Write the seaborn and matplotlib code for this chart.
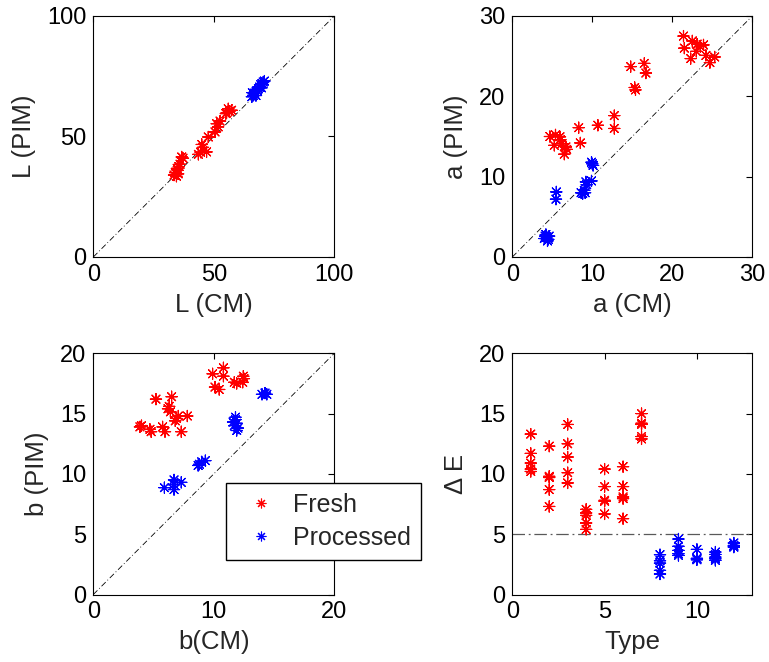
import numpy as np
import pandas as pd
import matplotlib
matplotlib.use("Agg")
import matplotlib.pyplot as plt
import seaborn as sns
from matplotlib.lines import Line2D

sns.set_theme(style="white")
plt.rcParams['font.family'] = ['Liberation Sans', 'DejaVu Sans']

# ---- L channel: colorimeter (CM) vs image (PIM) ----
L_cm_fresh = [33.5, 34.0, 34.5, 35.0, 34.8, 35.5, 36.0, 35.2, 36.7, 37.2, 43.6, 44.5, 45.0,
              45.5, 47.0, 47.7, 50.5, 51.2, 52.6, 51.8, 55.0, 55.3, 56.5, 57.4, 56.0]
L_pim_fresh = [34.0, 35.0, 33.5, 36.0, 36.8, 37.5, 38.5, 34.5, 41.5, 41.0, 42.6, 43.5, 46.7,
               45.5, 43.6, 49.8, 51.9, 55.3, 56.4, 54.0, 59.5, 59.8, 60.5, 60.9, 61.5]
L_cm_proc = [65.8, 66.4, 67.0, 66.0, 67.5, 68.0, 68.5, 69.0, 69.5, 70.0, 70.5, 71.0, 69.8]
L_pim_proc = [66.5, 67.1, 68.0, 68.2, 67.0, 69.0, 69.8, 70.5, 71.5, 72.0, 72.6, 73.0, 70.2]

# ---- a channel ----
a_cm_fresh = [21.4, 22.5, 21.5, 23.1, 23.9, 23.0, 22.3, 24.2, 25.3, 24.7, 23.5,
              14.8, 16.5, 16.7, 15.3, 15.4,
              12.75, 10.7, 12.75, 8.3, 8.5,
              4.7, 5.4, 5.96, 5.25, 6.2, 6.7, 6.8, 6.5, 6.0]
a_pim_fresh = [27.5, 26.9, 26.0, 26.5, 26.4, 25.6, 24.7, 25.1, 24.9, 24.2, 26.2,
               23.7, 24.1, 22.9, 21.1, 20.8,
               17.6, 16.4, 16.0, 16.1, 14.2,
               15.0, 15.2, 14.96, 13.9, 14.1, 13.7, 13.4, 12.8, 14.6]
a_cm_proc = [4.0, 4.3, 4.5, 4.2, 4.6, 4.4, 4.1,
             5.5, 5.46,
             9.9, 10.1, 10.0,
             9.2, 9.9, 9.3, 9.1, 8.8, 8.6, 9.0]
a_pim_proc = [2.3, 2.5, 2.2, 2.8, 2.6, 2.0, 2.6,
              8.1, 7.2,
              11.8, 11.4, 11.6,
              9.35, 9.47, 9.0, 8.0, 7.9, 8.0, 8.3]

# ---- b channel ----
b_cm_fresh = [3.87, 4.0, 4.7, 4.8, 5.2, 5.75, 5.95, 6.2, 6.3, 6.5, 6.4, 6.9, 7.05, 6.8, 7.8, 7.3,
              9.9, 10.1, 10.45, 10.8, 10.8, 11.7, 11.9, 12.45, 12.4, 12.5]
b_pim_fresh = [13.9, 14.0, 13.7, 13.5, 16.2, 13.9, 13.5, 15.4, 15.6, 16.4, 15.15, 14.6, 14.8, 14.4,
               14.8, 13.5,
               18.3, 17.2, 17.0, 18.8, 18.1, 17.6, 17.5, 18.1, 17.6, 17.9]
b_cm_proc = [14.25, 14.0, 14.4,
             11.8, 11.9, 11.7, 12.0, 11.8, 11.9, 11.6,
             9.0, 8.7, 9.3, 8.8,
             5.9, 6.7, 6.7, 7.3, 6.7]
b_pim_proc = [16.7, 16.6, 16.6,
              14.5, 14.2, 14.0, 13.8, 14.7, 13.6, 14.3,
              11.0, 10.7, 11.1, 10.8,
              8.86, 9.5, 8.7, 9.3, 9.1]

# ---- colour difference per sample type ----
de_type = ([1] * 5 + [2] * 5 + [3] * 5 + [4] * 5 + [5] * 5 + [6] * 5 + [7] * 5 +
           [8] * 5 + [9] * 5 + [10] * 4 + [11] * 5 + [12] * 4)
de_value = [13.3, 11.7, 10.9, 10.4, 10.2,
            12.3, 9.8, 9.7, 8.7, 7.3,
            14.1, 12.5, 11.4, 10.1, 9.25,
            7.06, 6.76, 6.56, 5.93, 5.40,
            10.4, 8.95, 7.81, 7.73, 6.68,
            10.6, 8.95, 8.09, 7.95, 6.29,
            15.0, 14.2, 14.1, 13.1, 12.9,
            3.3, 2.8, 2.6, 2.0, 1.7,
            4.6, 4.0, 3.66, 3.38, 3.24,
            3.74, 3.0, 2.96, 2.88,
            3.52, 3.32, 3.10, 2.96, 2.83,
            4.27, 4.07, 4.0, 3.93]
de_group = ["Fresh"] * 35 + ["Processed"] * 23

groups = ["Fresh", "Processed"]
palette = {"Fresh": "#ff0000", "Processed": "#0000ff"}
ASTER = (8, 2, 0)

TICK_FS = 17
LABEL_FS = 18.5


def pair_frame(cm_f, pim_f, cm_p, pim_p):
    return pd.DataFrame({
        "cm": list(cm_f) + list(cm_p),
        "pim": list(pim_f) + list(pim_p),
        "group": ["Fresh"] * len(cm_f) + ["Processed"] * len(cm_p),
    })


def style_axes(ax):
    ax.tick_params(direction="in", top=True, right=True, length=4, width=0.8,
                   labelsize=TICK_FS, pad=5, colors="black")
    for sp in ax.spines.values():
        sp.set_color("black")
        sp.set_linewidth(0.8)


dashdot = (0, (7, 3, 1, 3))

fig = plt.figure(figsize=(7.69, 6.62), dpi=100)
W, H = 769, 662
boxes = [(93.3, 16, 241, 241), (512.3, 16, 240, 241),
         (93.3, 353.3, 241, 241.2), (512.3, 353.3, 240, 241.2)]
axes = [fig.add_axes([x / W, 1 - (y + h) / H, w / W, h / H]) for x, y, w, h in boxes]

panels = [
    (pair_frame(L_cm_fresh, L_pim_fresh, L_cm_proc, L_pim_proc), 100, [0, 50, 100], [0, 50, 100],
     "L (CM)", "L (PIM)"),
    (pair_frame(a_cm_fresh, a_pim_fresh, a_cm_proc, a_pim_proc), 30, [0, 10, 20, 30], [0, 10, 20, 30],
     "a (CM)", "a (PIM)"),
    (pair_frame(b_cm_fresh, b_pim_fresh, b_cm_proc, b_pim_proc), 20, [0, 10, 20], [0, 5, 10, 15, 20],
     "b(CM)", "b (PIM)"),
]

for ax, (df, lim, xt, yt, xl, yl) in zip(axes[:3], panels):
    ax.plot([0, lim], [0, lim], color="black", lw=0.6, ls=dashdot, zorder=1)
    sns.scatterplot(data=df, x="cm", y="pim", hue="group", hue_order=groups, palette=palette,
                    marker=ASTER, s=65, linewidth=0.85, legend=False, ax=ax, zorder=2)
    ax.set_xlim(0, lim)
    ax.set_ylim(0, lim)
    ax.set_xticks(xt)
    ax.set_yticks(yt)
    ax.set_xlabel(xl, fontsize=LABEL_FS, labelpad=5)
    ax.set_ylabel(yl, fontsize=LABEL_FS, labelpad=8)
    style_axes(ax)

# Colour difference panel
ax = axes[3]
de_df = pd.DataFrame({"type": de_type, "de": de_value, "group": de_group})
ax.axhline(5, color="0.35", lw=0.9, ls=(0, (10, 3, 1.5, 3)), zorder=1)
sns.scatterplot(data=de_df, x="type", y="de", hue="group", hue_order=groups, palette=palette,
                marker=ASTER, s=65, linewidth=0.85, legend=False, ax=ax, zorder=2)
ax.set_xlim(0, 13)
ax.set_ylim(0, 20)
ax.set_xticks([0, 5, 10])
ax.set_yticks([0, 5, 10, 15, 20])
ax.set_xlabel("Type", fontsize=LABEL_FS, labelpad=5)
ax.set_ylabel("Δ E", fontsize=LABEL_FS, labelpad=8)
style_axes(ax)

handles = [Line2D([], [], ls="none", marker=ASTER, color=palette[g], markersize=7, mew=0.8)
           for g in groups]
leg = fig.legend(handles, groups, loc="upper left", bbox_to_anchor=(226 / W, 1 - 483 / H),
                 frameon=True, fancybox=False, edgecolor="black", framealpha=1, fontsize=18,
                 handlelength=2.0, handletextpad=0.28, borderpad=0.4, labelspacing=0.35,
                 borderaxespad=0)
leg.get_frame().set_linewidth(1.0)

fig.savefig("out.png", dpi=100)
